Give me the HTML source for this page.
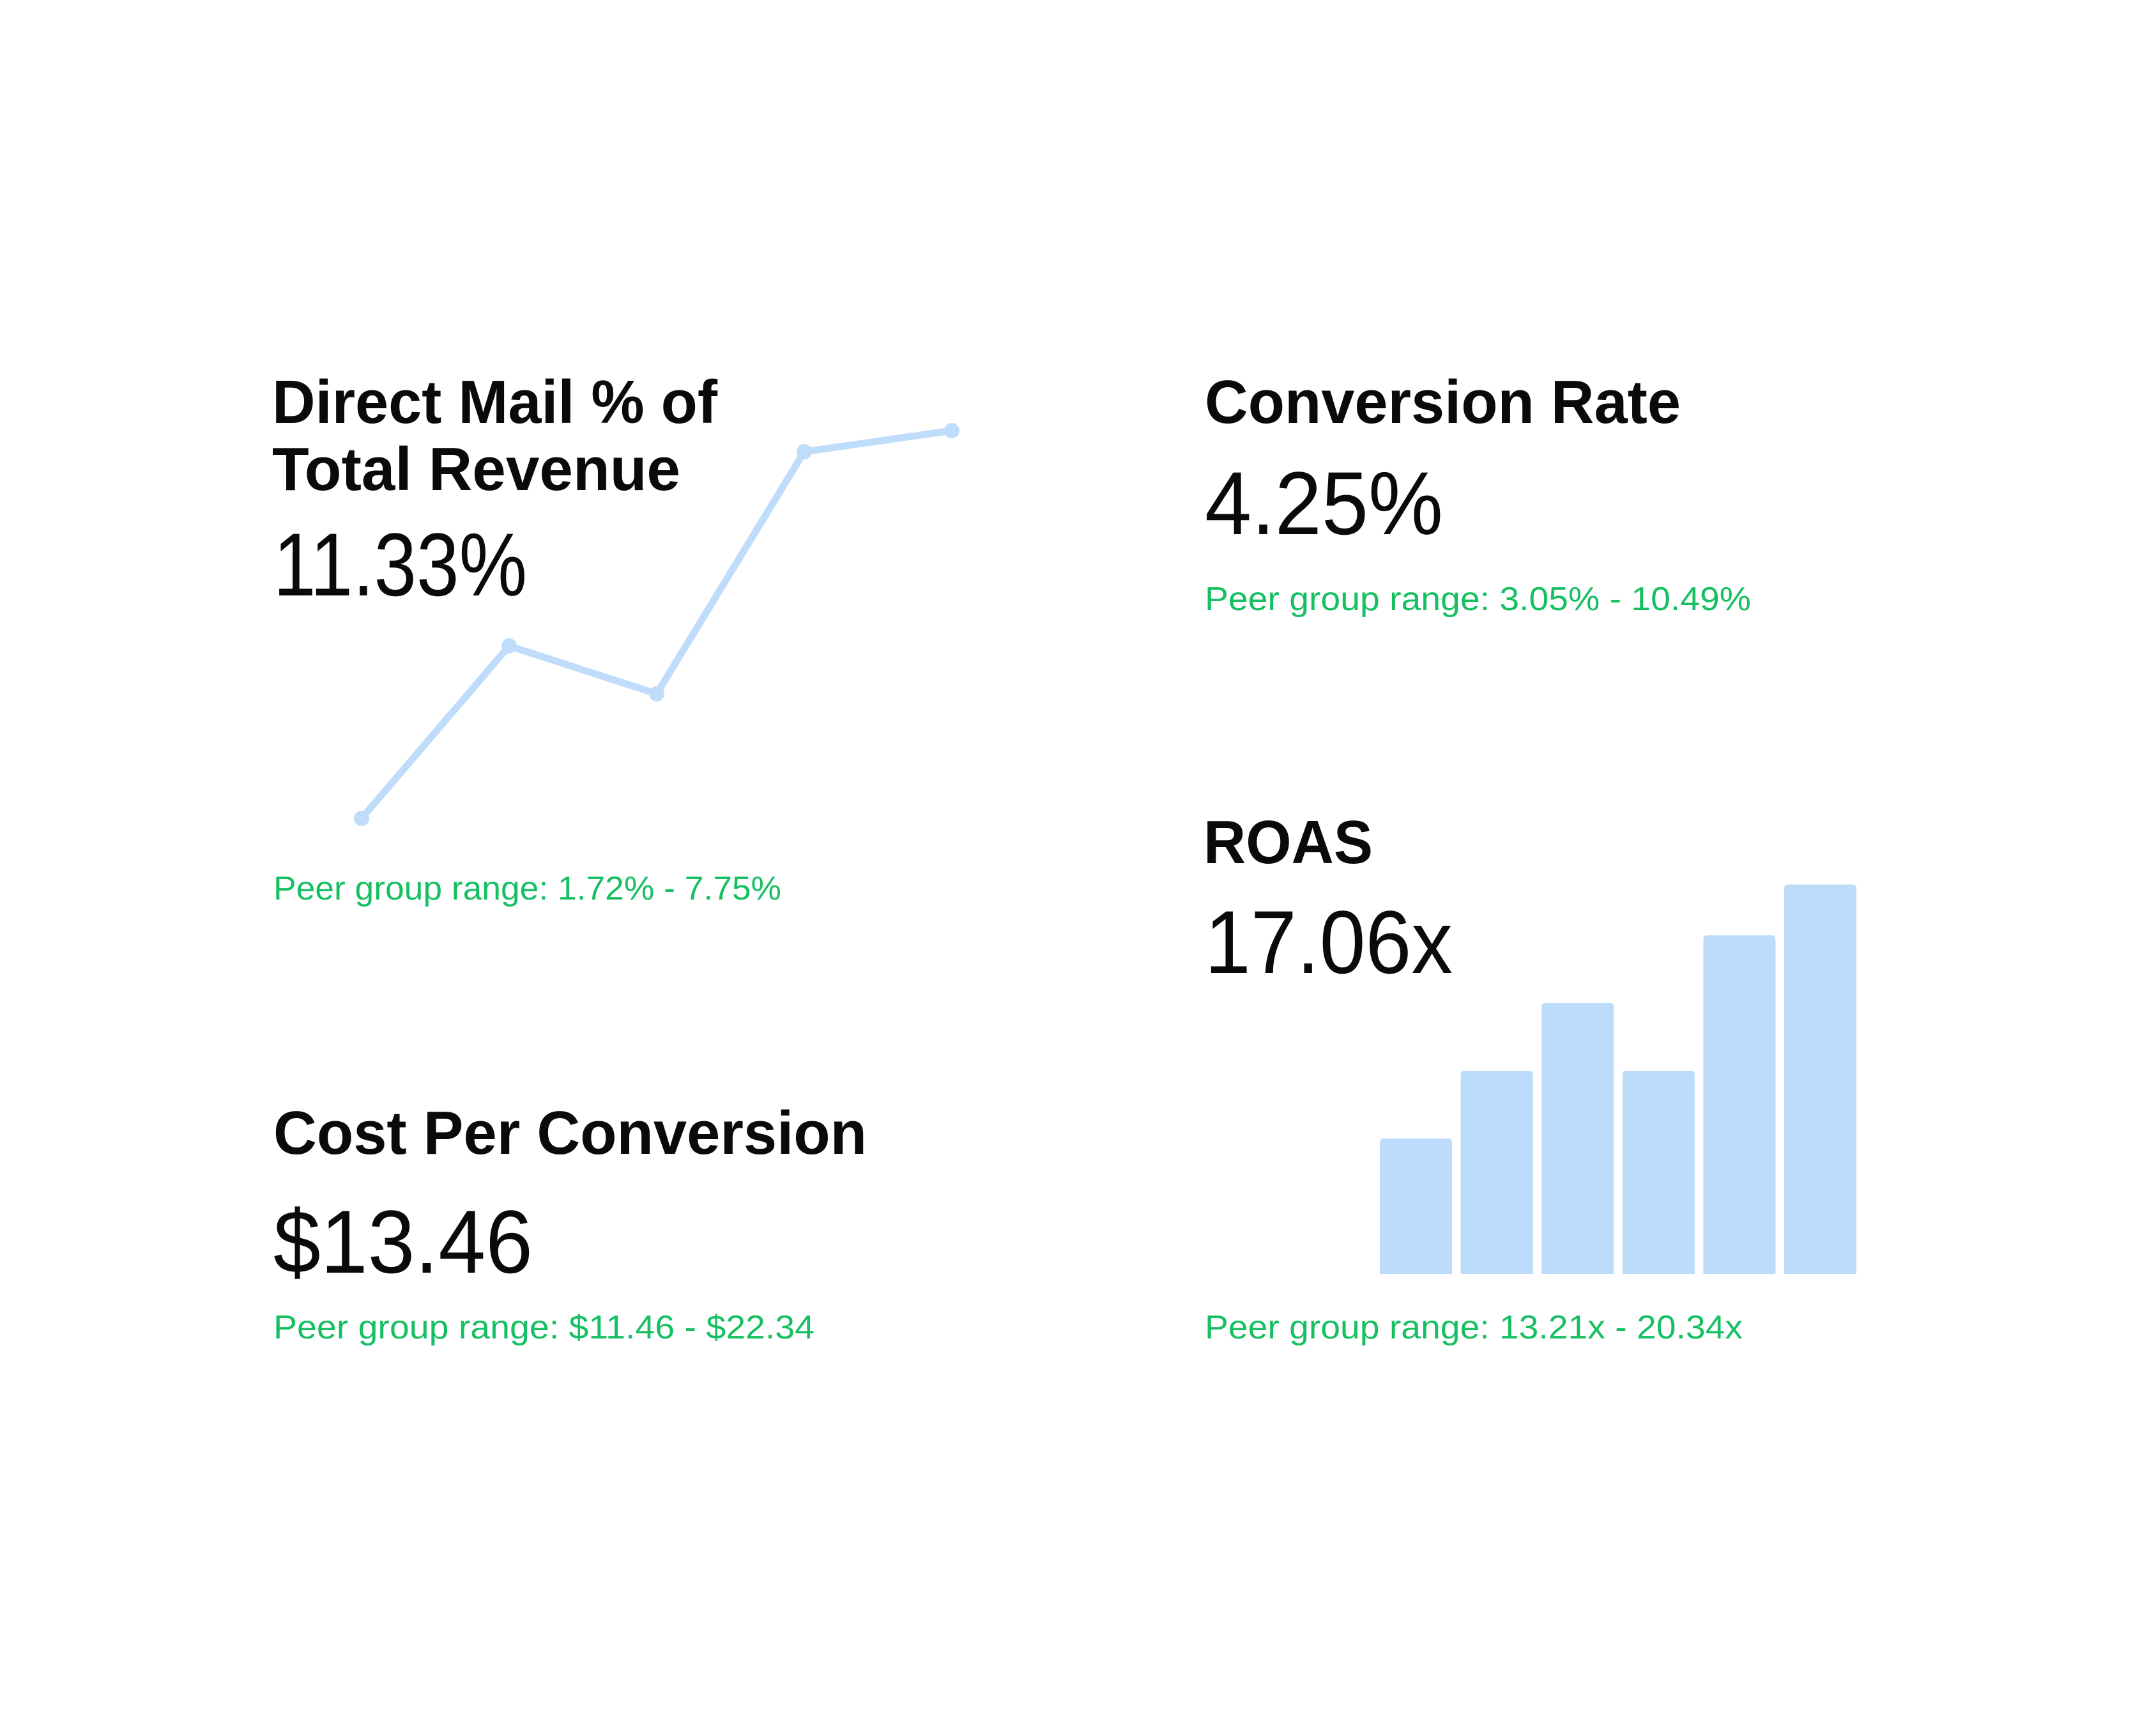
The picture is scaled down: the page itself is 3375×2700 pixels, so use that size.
<!DOCTYPE html>
<html><head><meta charset="utf-8"><style>
html,body{margin:0;padding:0;background:#fff;}
svg{display:block;}
text{font-family:"Liberation Sans",sans-serif;}
.t{font-weight:bold;font-size:96px;fill:#0a0a0a;}
.v{font-size:140px;fill:#0a0a0a;}
.p{font-size:52px;fill:#16c062;}
</style></head><body>
<svg id="s" width="3375" height="2700" viewBox="0 0 3375 2700">
<rect width="3375" height="2700" fill="#fff"/>
<g>
<text class="t" x="426" y="662" textLength="697" lengthAdjust="spacingAndGlyphs">Direct Mail % of</text>
<text class="t" x="426" y="767" textLength="639" lengthAdjust="spacingAndGlyphs">Total Revenue</text>
<text class="v" x="428" y="932" textLength="397" lengthAdjust="spacingAndGlyphs">11.33%</text>
<g id="lineChart"></g>
<text class="p" x="428" y="1408" textLength="795" lengthAdjust="spacingAndGlyphs">Peer group range: 1.72% - 7.75%</text>
</g>
<g>
<text class="t" x="428" y="1806" textLength="929" lengthAdjust="spacingAndGlyphs">Cost Per Conversion</text>
<text class="v" x="428" y="1992" textLength="406" lengthAdjust="spacingAndGlyphs">$13.46</text>
<text class="p" x="428" y="2095" textLength="847" lengthAdjust="spacingAndGlyphs">Peer group range: $11.46 - $22.34</text>
</g>
<g>
<text class="t" x="1886" y="662" textLength="745" lengthAdjust="spacingAndGlyphs">Conversion Rate</text>
<text class="v" x="1886" y="836" textLength="373" lengthAdjust="spacingAndGlyphs">4.25%</text>
<text class="p" x="1886" y="955" textLength="855" lengthAdjust="spacingAndGlyphs">Peer group range: 3.05% - 10.49%</text>
</g>
<g>
<text class="t" x="1884" y="1351" textLength="265" lengthAdjust="spacingAndGlyphs">ROAS</text>
<text class="v" x="1886" y="1523" textLength="388" lengthAdjust="spacingAndGlyphs">17.06x</text>
<g id="barChart"></g>
<text class="p" x="1886" y="2095" textLength="842" lengthAdjust="spacingAndGlyphs">Peer group range: 13.21x - 20.34x</text>
</g>
</svg>
<script>
const NS = "http://www.w3.org/2000/svg";
// line chart data
const lineCategories = ["P1","P2","P3","P4","P5"];
const lineValues = [1.0, 3.7, 2.95, 6.74, 7.07];
// bar chart data
const barCategories = ["B1","B2","B3","B4","B5","B6"];
const barValues = [2, 3, 4, 3, 5, 5.75];

const lx = i => 566 + i * 231;
const ly = v => 1381 - v * 100;
const lg = document.getElementById('lineChart');
const pts = lineValues.map((v, i) => lx(i) + ',' + ly(v)).join(' ');
const pl = document.createElementNS(NS, 'polyline');
pl.setAttribute('points', pts);
pl.setAttribute('fill', 'none');
pl.setAttribute('stroke', '#bfdcfb');
pl.setAttribute('stroke-width', '11');
pl.setAttribute('stroke-linejoin', 'round');


lg.appendChild(pl);
lineValues.forEach((v, i) => {
  const c = document.createElementNS(NS, 'circle');
  c.setAttribute('cx', lx(i));
  c.setAttribute('cy', ly(v));
  c.setAttribute('r', '12');
  c.setAttribute('fill', '#bfdcfb');
  
  
  lg.appendChild(c);
});

const bx = i => 2160 + i * 126.6;
const bBase = 1994;
const bh = v => v * 106;
const bg = document.getElementById('barChart');
barValues.forEach((v, i) => {
  const h = bh(v), x = bx(i), w = 113, y = bBase - h, r = 6;
  const p = document.createElementNS(NS, 'path');
  p.setAttribute('d', `M${x},${bBase} V${y + r} Q${x},${y} ${x + r},${y} H${x + w - r} Q${x + w},${y} ${x + w},${y + r} V${bBase} Z`);
  p.setAttribute('fill', '#bddcfc');
  
  
  bg.appendChild(p);
});
</script>
</body></html>
